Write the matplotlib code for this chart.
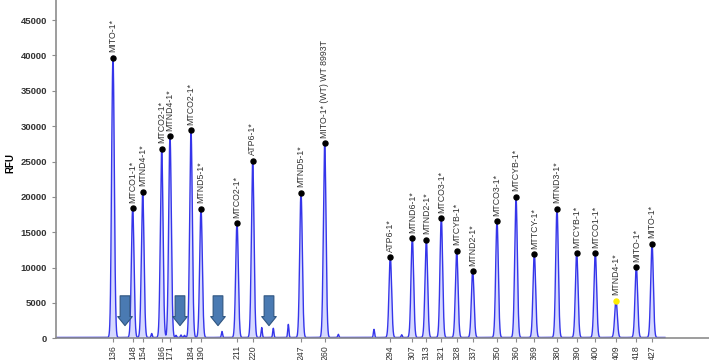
"""Electropherogram of mitochondrial fragment peaks (RFU vs fragment size)."""

import matplotlib

matplotlib.use("Agg")
import matplotlib.pyplot as plt
import numpy as np

plt.rcParams["font.family"] = ["Liberation Sans", "DejaVu Sans"]

# Called peaks: size (bp, tick label), scan position, height (RFU), label
SIZES = ["136", "148", "154", "166", "171", "184", "190", "211", "220", "247", "260",
         "294", "307", "313", "321", "328", "337", "350", "360", "369", "380", "390",
         "400", "409", "418", "427"]
SCAN_POS = [113.0, 132.7, 142.7, 161.7, 170.0, 191.0, 201.0, 237.0, 252.7, 301.0, 324.7,
            390.3, 412.3, 426.3, 441.3, 456.7, 472.7, 497.0, 516.0, 534.3, 557.0, 576.7,
            595.3, 616.0, 636.3, 652.0]
HEIGHTS = [39700, 18400, 20700, 26800, 28600, 29400, 18300, 16300, 25100, 20600, 27600,
           11450, 14150, 13900, 17000, 12350, 9450, 16550, 20000, 11900, 18300, 12000,
           12000, 5300, 10050, 13400]
PEAK_LABELS = ["MITO-1*", "MTCO1-1*", "MTND4-1*", "MTCO2-1*", "MTND4-1*", "MTCO2-1*",
               "MTND5-1*", "MTCO2-1*", "ATP6-1*", "MTND5-1*", "MITO-1* (WT) WT 8993T",
               "ATP6-1*", "MTND6-1*", "MTND2-1*", "MTCO3-1*", "MTCYB-1*", "MTND2-1*",
               "MTCO3-1*", "MTCYB-1*", "MTTCY-1*", "MTND3-1*", "MTCYB-1*", "MTCO1-1*",
               "MTND4-1*", "MITO-1*", "MITO-1*"]
DOT_COLORS = ["black"] * 23 + ["#ffee00"] + ["black"] * 2

# Uncalled minor peaks
MINOR_POS = [111.5, 151.7, 176.0, 181.0, 184.5, 222.0, 261.7, 273.3, 288.3, 338.3,
             374.0, 401.7]
MINOR_HEIGHTS = [1850, 560, 300, 350, 300, 850, 1400, 1300, 1850, 450, 1150, 380]

# Arrow positions (scan units)
ARROW_POS = [125.0, 180.0, 218.0, 269.0]

TRACE_START, TRACE_END = 56.0, 665.0
TRACE_COLOUR = "#3535ea"
FILL_COLOUR = "#d6d9ff"
AXIS_COLOUR = "#8c8c8c"
TEXT_COLOUR = "#333333"

fig = plt.figure(figsize=(7.09, 3.6), dpi=100)
ax = fig.add_axes([56 / 709, 1 - 338.3 / 360, 1 - 56 / 709, 338.3 / 360])

# Build the trace from the peak table
x = np.arange(TRACE_START, TRACE_END, 0.05)
y = np.zeros_like(x)
for pos, h in zip(SCAN_POS, HEIGHTS):
    y += h * np.exp(-0.5 * ((x - pos) / 1.3) ** 2)
for pos, h in zip(MINOR_POS, MINOR_HEIGHTS):
    y += h * np.exp(-0.5 * ((x - pos) / 0.6) ** 2)
y += 120

ax.fill_between(x, 0, y, color=FILL_COLOUR, linewidth=0, zorder=1)
ax.plot(x, y, color=TRACE_COLOUR, linewidth=1.0, zorder=2)

# Peak dots and labels
for pos, h, lab, col in zip(SCAN_POS, HEIGHTS, PEAK_LABELS, DOT_COLORS):
    ax.plot(pos, h, "o", color=col, markersize=3.6, zorder=4)
    ax.annotate(lab, xy=(pos, h), xytext=(0, 4), textcoords="offset points",
                rotation=90, ha="center", va="bottom", fontsize=6.3,
                color=TEXT_COLOUR, zorder=5)

# Blue block arrows
for pos in ARROW_POS:
    ax.annotate("", xy=(pos, 1400), xytext=(pos, 6400),
                arrowprops=dict(arrowstyle="simple,head_width=1.05,head_length=0.65,tail_width=0.7",
                                mutation_scale=10, facecolor="#4a7ab2",
                                edgecolor="#2f5580", linewidth=0.8),
                zorder=6)

ax.set_xlim(56, 709)
ax.set_ylim(0, 47850)
ax.set_yticks(np.arange(0, 45001, 5000))
ax.set_xticks(SCAN_POS)
ax.set_xticklabels(SIZES, rotation=90, fontsize=6.3, color=TEXT_COLOUR)
ax.tick_params(axis="y", labelsize=6.8, colors=AXIS_COLOUR, labelcolor=TEXT_COLOUR,
               length=3, width=0.8)
ax.tick_params(axis="x", colors=AXIS_COLOUR, labelcolor=TEXT_COLOUR, length=3,
               width=0.8, pad=2)
for lab in ax.get_yticklabels():
    lab.set_fontweight("bold")

for side in ("top", "right"):
    ax.spines[side].set_visible(False)
for side in ("left", "bottom"):
    ax.spines[side].set_color(AXIS_COLOUR)
    ax.spines[side].set_linewidth(1.2)

fig.text(10 / 709, 1 - 163 / 360, "RFU", rotation=90, ha="center", va="center",
         fontsize=7, fontweight="bold", color="black")

fig.savefig("out.png", dpi=100)
